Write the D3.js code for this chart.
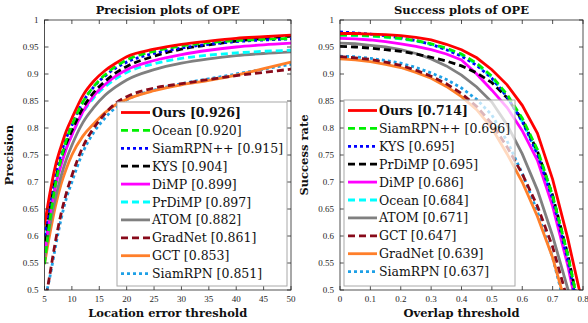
<!DOCTYPE html>
<html>
<head>
<meta charset="utf-8">
<script src="https://cdn.jsdelivr.net/npm/d3@7"></script>
<style>
  body { margin: 0; background: #fff; }
  svg { display: block; font-family: "Liberation Serif", "DejaVu Serif", serif; }
  .lbl { font-family: "DejaVu Serif", serif; }
</style>
</head>
<body>
<script>
// ---- data: precision plot (location error threshold) ----
const precThresh = [5, 6, 7, 8, 9, 10, 12, 14, 16, 18, 20, 25, 30, 35, 40, 45, 50];
const precNames = ["Ours", "Ocean", "SiamRPN++", "KYS", "DiMP", "PrDiMP", "ATOM", "GradNet", "GCT", "SiamRPN"];
const precScores = ["0.926", "0.920", "0.915", "0.904", "0.899", "0.897", "0.882", "0.861", "0.853", "0.851"];
const precOurs     = [0.620, 0.680, 0.730, 0.765, 0.795, 0.818, 0.860, 0.887, 0.906, 0.920, 0.932, 0.946, 0.955, 0.961, 0.966, 0.969, 0.972];
const precOcean    = [0.548, 0.630, 0.695, 0.742, 0.778, 0.805, 0.848, 0.877, 0.898, 0.914, 0.926, 0.942, 0.952, 0.958, 0.962, 0.964, 0.966];
const precSiamPP   = [0.600, 0.665, 0.715, 0.752, 0.782, 0.805, 0.848, 0.876, 0.896, 0.911, 0.922, 0.938, 0.948, 0.955, 0.960, 0.963, 0.965];
const precKYS      = [0.590, 0.655, 0.705, 0.742, 0.772, 0.795, 0.837, 0.866, 0.886, 0.902, 0.914, 0.933, 0.946, 0.954, 0.961, 0.966, 0.970];
const precDiMP     = [0.568, 0.640, 0.692, 0.730, 0.762, 0.787, 0.830, 0.860, 0.880, 0.896, 0.908, 0.925, 0.936, 0.944, 0.950, 0.954, 0.957];
const precPrDiMP   = [0.580, 0.645, 0.695, 0.733, 0.764, 0.787, 0.828, 0.856, 0.876, 0.891, 0.903, 0.919, 0.929, 0.935, 0.939, 0.942, 0.944];
const precATOM     = [0.560, 0.620, 0.670, 0.710, 0.742, 0.768, 0.810, 0.838, 0.860, 0.876, 0.889, 0.908, 0.920, 0.928, 0.934, 0.938, 0.941];
const precGradNet  = [0.470, 0.530, 0.590, 0.640, 0.680, 0.712, 0.765, 0.800, 0.826, 0.846, 0.858, 0.874, 0.882, 0.890, 0.897, 0.903, 0.909];
const precGCT      = [0.548, 0.605, 0.655, 0.695, 0.725, 0.750, 0.785, 0.808, 0.828, 0.843, 0.853, 0.869, 0.880, 0.888, 0.898, 0.910, 0.922];
const precSiamRPN  = [0.480, 0.525, 0.580, 0.630, 0.670, 0.700, 0.755, 0.792, 0.818, 0.838, 0.852, 0.870, 0.882, 0.891, 0.900, 0.909, 0.918];
const precSeries = [precOurs, precOcean, precSiamPP, precKYS, precDiMP, precPrDiMP, precATOM, precGradNet, precGCT, precSiamRPN];

// ---- data: success plot (overlap threshold) ----
const succThresh = [0, 0.05, 0.1, 0.15, 0.2, 0.25, 0.3, 0.35, 0.4, 0.45, 0.5, 0.55, 0.6, 0.65, 0.7, 0.75, 0.8];
const succNames = ["Ours", "SiamRPN++", "KYS", "PrDiMP", "DiMP", "Ocean", "ATOM", "GCT", "GradNet", "SiamRPN"];
const succScores = ["0.714", "0.696", "0.695", "0.695", "0.686", "0.684", "0.671", "0.647", "0.639", "0.637"];
const succOurs     = [0.975, 0.975, 0.974, 0.973, 0.971, 0.968, 0.963, 0.955, 0.945, 0.930, 0.908, 0.880, 0.842, 0.790, 0.705, 0.595, 0.470];
const succSiamPP   = [0.972, 0.972, 0.971, 0.969, 0.966, 0.962, 0.956, 0.948, 0.937, 0.920, 0.896, 0.862, 0.818, 0.760, 0.675, 0.565, 0.430];
const succKYS      = [0.978, 0.976, 0.974, 0.971, 0.967, 0.962, 0.955, 0.945, 0.933, 0.916, 0.892, 0.858, 0.812, 0.752, 0.668, 0.555, 0.420];
const succPrDiMP   = [0.951, 0.950, 0.948, 0.945, 0.942, 0.937, 0.931, 0.924, 0.915, 0.902, 0.884, 0.856, 0.815, 0.757, 0.675, 0.565, 0.430];
const succDiMP     = [0.966, 0.965, 0.963, 0.960, 0.956, 0.951, 0.945, 0.937, 0.926, 0.900, 0.870, 0.838, 0.795, 0.740, 0.655, 0.545, 0.410];
const succOcean    = [0.972, 0.971, 0.970, 0.968, 0.965, 0.961, 0.955, 0.946, 0.935, 0.918, 0.893, 0.858, 0.812, 0.752, 0.665, 0.550, 0.410];
const succATOM     = [0.957, 0.956, 0.953, 0.950, 0.945, 0.938, 0.928, 0.915, 0.898, 0.876, 0.848, 0.806, 0.752, 0.685, 0.600, 0.502, 0.390];
const succGCT      = [0.932, 0.930, 0.927, 0.922, 0.916, 0.907, 0.896, 0.882, 0.864, 0.840, 0.808, 0.765, 0.715, 0.655, 0.580, 0.480, 0.360];
const succGradNet  = [0.928, 0.926, 0.923, 0.918, 0.912, 0.903, 0.892, 0.877, 0.858, 0.834, 0.800, 0.752, 0.700, 0.636, 0.560, 0.460, 0.350];
const succSiamRPN  = [0.933, 0.932, 0.929, 0.925, 0.920, 0.912, 0.902, 0.890, 0.874, 0.853, 0.824, 0.776, 0.716, 0.645, 0.560, 0.450, 0.330];
const succSeries = [succOurs, succSiamPP, succKYS, succPrDiMP, succDiMP, succOcean, succATOM, succGCT, succGradNet, succSiamRPN];

// ---- styles per tracker ----
const trackerStyle = {
  "Ours":      { color: "#ff0000", dash: null },
  "Ocean":     { color: "#00f000", dash: "dash" },
  "SiamRPN++": { color: "#0000ff", dash: "dot" },
  "KYS":       { color: "#000000", dash: "dash" },
  "DiMP":      { color: "#ff00ff", dash: null },
  "PrDiMP":    { color: "#00ffff", dash: "dash" },
  "ATOM":      { color: "#808080", dash: null },
  "GradNet":   { color: "#880a1a", dash: "dash" },
  "GCT":       { color: "#ff7f2a", dash: null },
  "SiamRPN":   { color: "#1ea0e6", dash: "dot" }
};
// success plot swaps a few styles relative to the precision plot
const succStyle = {
  "SiamRPN++": trackerStyle["Ocean"],
  "KYS": trackerStyle["SiamRPN++"],
  "PrDiMP": trackerStyle["KYS"],
  "Ocean": trackerStyle["PrDiMP"],
  "GCT": trackerStyle["GradNet"],
  "GradNet": trackerStyle["GCT"]
};
const dashArr = { dash: "7,4", dot: "3,3" };

const W = 588, H = 323;
const svg = d3.select("body").append("svg").attr("width", W).attr("height", H);

const axisColor = "#262626";

function panel(opt) {
  const { x0, x1, y0, y1, xDomain, xTicks, xFmt, title, xLabel, yLabel, thresh, series, names, scores, styleOf, legend, curve, id } = opt;
  const x = d3.scaleLinear().domain(xDomain).range([x0, x1]);
  const y = d3.scaleLinear().domain([0.5, 1]).range([y1, y0]);
  const g = svg.append("g");

  g.append("clipPath").attr("id", id).append("rect")
    .attr("x", x0).attr("y", y0).attr("width", x1 - x0).attr("height", y1 - y0);

  // curves (draw last-ranked first so "Ours" sits on top)
  const line = d3.line().x((d, i) => x(thresh[i])).y(d => y(d)).curve(curve);
  const curves = g.append("g").attr("clip-path", `url(#${id})`);
  for (let k = series.length - 1; k >= 0; k--) {
    const st = styleOf(names[k]);
    curves.append("path")
      .attr("d", line(series[k]))
      .attr("fill", "none")
      .attr("stroke", st.color)
      .attr("stroke-width", 2.8)
      .attr("stroke-dasharray", st.dash ? dashArr[st.dash] : null);
  }

  // axes with inward ticks on all four sides
  const yTicks = d3.range(0.5, 1.0001, 0.05);
  const tl = 4;
  const ax = g.append("g").attr("stroke", axisColor).attr("stroke-width", 0.8);
  xTicks.forEach(t => {
    ax.append("line").attr("x1", x(t)).attr("x2", x(t)).attr("y1", y1).attr("y2", y1 - tl);
    ax.append("line").attr("x1", x(t)).attr("x2", x(t)).attr("y1", y0).attr("y2", y0 + tl);
  });
  yTicks.forEach(t => {
    ax.append("line").attr("x1", x0).attr("x2", x0 + tl).attr("y1", y(t)).attr("y2", y(t));
    ax.append("line").attr("x1", x1).attr("x2", x1 - tl).attr("y1", y(t)).attr("y2", y(t));
  });
  ax.append("rect").attr("x", x0).attr("y", y0).attr("width", x1 - x0).attr("height", y1 - y0)
    .attr("fill", "none");

  g.append("g").selectAll("text").data(xTicks).join("text")
    .attr("x", d => x(d)).attr("y", y1 + 12)
    .attr("text-anchor", "middle").attr("font-size", 9).attr("fill", axisColor)
    .text(xFmt);
  g.append("g").selectAll("text").data(yTicks).join("text")
    .attr("x", x0 - 6).attr("y", d => y(d) + 3)
    .attr("text-anchor", "end").attr("font-size", 9).attr("fill", axisColor)
    .text(d => d3.format("~g")(+d.toFixed(2)));

  g.append("text").attr("class", "lbl").attr("x", (x0 + x1) / 2).attr("y", 14)
    .attr("text-anchor", "middle").attr("font-size", 11.5).attr("font-weight", "bold")
    .attr("fill", "#111").text(title);
  g.append("text").attr("class", "lbl").attr("x", (x0 + x1) / 2).attr("y", y1 + 27)
    .attr("text-anchor", "middle").attr("font-size", 11.5).attr("font-weight", "bold")
    .attr("fill", "#111").text(xLabel);
  g.append("text").attr("class", "lbl")
    .attr("transform", `translate(${x0 - 32},${(y0 + y1) / 2}) rotate(-90)`)
    .attr("text-anchor", "middle").attr("font-size", 11.5).attr("font-weight", "bold")
    .attr("fill", "#111").text(yLabel);

  // legend
  const lg = g.append("g");
  lg.append("rect").attr("x", legend.x).attr("y", legend.y).attr("width", legend.w).attr("height", legend.h)
    .attr("fill", "#fff").attr("fill-opacity", legend.opacity)
    .attr("stroke", "#a8a8a8").attr("stroke-width", 1);
  names.forEach((n, i) => {
    const st = styleOf(n);
    const ry = legend.y + 10.5 + i * 17.9;
    lg.append("line")
      .attr("x1", legend.x + 4).attr("x2", legend.x + 33).attr("y1", ry).attr("y2", ry)
      .attr("stroke", st.color).attr("stroke-width", 2.8)
      .attr("stroke-dasharray", st.dash ? dashArr[st.dash] : null);
    const t = lg.append("text").attr("class", "lbl").attr("x", legend.x + 35).attr("y", ry + 4.5)
      .attr("font-size", 12.5).attr("fill", "#111");
    if (i === 0) {
      t.attr("font-weight", "bold").text(`${n} [${scores[i]}]`);
    } else {
      t.text(`${n} [${scores[i]}]`);
    }
  });
}

panel({
  id: "clipPrec",
  x0: 44.5, x1: 291, y0: 20, y1: 290,
  xDomain: [5, 50], xTicks: d3.range(5, 51, 5), xFmt: d => d,
  title: "Precision plots of OPE", xLabel: "Location error threshold", yLabel: "Precision",
  thresh: precThresh, series: precSeries, names: precNames, scores: precScores,
  styleOf: n => trackerStyle[n],
  legend: { x: 117, y: 102, w: 170, h: 184, opacity: 1 },
  curve: d3.curveMonotoneX
});

panel({
  id: "clipSucc",
  x0: 340, x1: 583, y0: 20, y1: 290,
  xDomain: [0, 0.8], xTicks: d3.range(0, 8.01, 1).map(v => v / 10), xFmt: d => d3.format("~g")(d),
  title: "Success plots of OPE", xLabel: "Overlap threshold", yLabel: "Success rate",
  thresh: succThresh, series: succSeries, names: succNames, scores: succScores,
  styleOf: n => succStyle[n] || trackerStyle[n],
  legend: { x: 344, y: 100, w: 171, h: 186, opacity: 0.7 },
  curve: d3.curveLinear
});
</script>
</body>
</html>
